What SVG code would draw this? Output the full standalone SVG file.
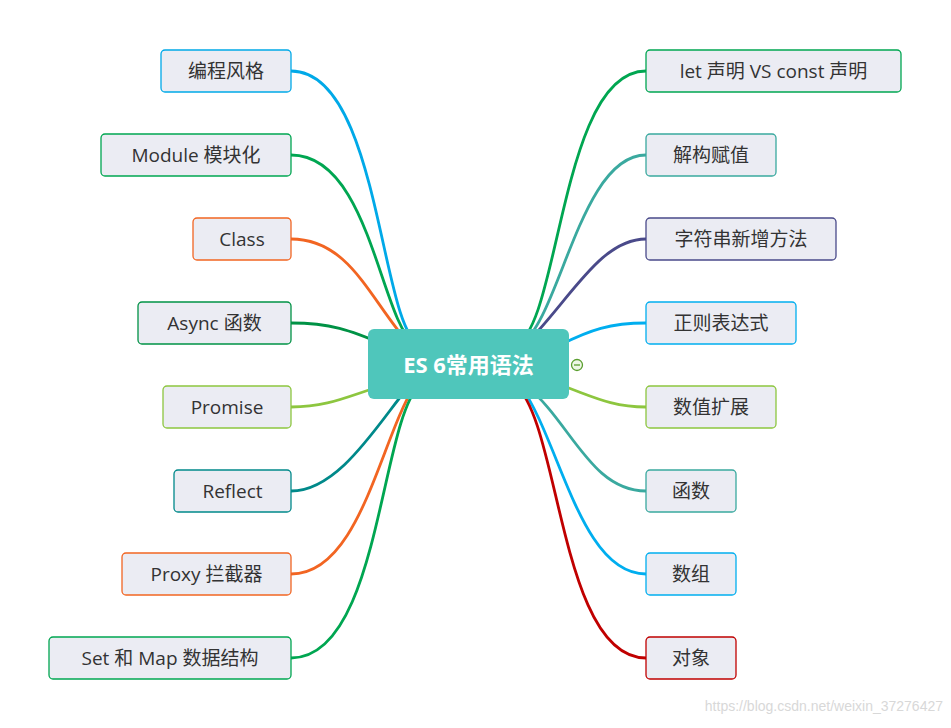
<svg xmlns="http://www.w3.org/2000/svg" width="951" height="728" viewBox="0 0 951 728">
<style>
.n rect{fill:#ebecf3;stroke-width:1.3}
.n text{font-family:"Open Sans","Noto Sans CJK SC",sans-serif;font-size:19px;fill:#333;text-anchor:middle;dominant-baseline:central}
#conn path{fill:none;stroke-width:2.8;stroke-linecap:round}
</style>
<rect width="951" height="728" fill="#fff"/>
<g id="conn">
<path d="M291,71 C380,71 380,330 420,345" stroke="#00a9e8"/>
<path d="M291,155 C370,155 380,320 415,345" stroke="#00a651"/>
<path d="M291,239 C350,239 370,300 410,345" stroke="#f26522"/>
<path d="M291,323 C330,323 350,330 385,345" stroke="#009245"/>
<path d="M291,407 C330,407 350,395 385,385" stroke="#8dc63f"/>
<path d="M291,491 C340,491 380,420 410,385" stroke="#00898a"/>
<path d="M291,574 C360,574 380,440 415,385" stroke="#f26522"/>
<path d="M291,658 C380,658 380,420 420,385" stroke="#00a651"/>
<path d="M646,71 C560,71 560,330 515,345" stroke="#00a651"/>
<path d="M646,155 C580,155 560,320 520,345" stroke="#3aa99f"/>
<path d="M646,239 C600,239 570,300 525,345" stroke="#4a4a8a"/>
<path d="M646,323 C610,323 590,330 560,345" stroke="#00aeef"/>
<path d="M646,407 C610,407 590,395 560,385" stroke="#8dc63f"/>
<path d="M646,491 C590,491 570,420 525,385" stroke="#3aa99f"/>
<path d="M646,574 C580,574 560,440 520,385" stroke="#00aeef"/>
<path d="M646,658 C560,658 560,420 515,385" stroke="#c00000"/>
</g>
<g id="center">
<rect x="368" y="329" width="201" height="70" rx="6" fill="#4fc6bb"/>
<text x="468.5" y="364" font-family="Open Sans,Noto Sans CJK SC,sans-serif" font-size="22" font-weight="bold" fill="#fff" text-anchor="middle" dominant-baseline="central">ES 6常用语法</text>
<circle cx="577" cy="365" r="5.5" fill="#eef7e6" stroke="#5a9e2f" stroke-width="1.3"/>
<line x1="574" y1="365" x2="580" y2="365" stroke="#5a9e2f" stroke-width="1.3"/>
</g>
<g id="n1" class="n"><rect x="161" y="50" width="130" height="42" rx="4" stroke="#00a9e8"/><text x="226" y="71">编程风格</text></g>
<g id="n2" class="n"><rect x="101" y="134" width="190" height="42" rx="4" stroke="#00a651"/><text x="196" y="155">Module 模块化</text></g>
<g id="n3" class="n"><rect x="193" y="218" width="98" height="42" rx="4" stroke="#f26522"/><text x="242" y="239">Class</text></g>
<g id="n4" class="n"><rect x="138" y="302" width="153" height="42" rx="4" stroke="#009245"/><text x="214.5" y="323">Async 函数</text></g>
<g id="n5" class="n"><rect x="163" y="386" width="128" height="42" rx="4" stroke="#8dc63f"/><text x="227" y="407">Promise</text></g>
<g id="n6" class="n"><rect x="174" y="470" width="117" height="42" rx="4" stroke="#00898a"/><text x="232.5" y="491">Reflect</text></g>
<g id="n7" class="n"><rect x="122" y="553" width="169" height="42" rx="4" stroke="#f26522"/><text x="206.5" y="574">Proxy 拦截器</text></g>
<g id="n8" class="n"><rect x="49" y="637" width="242" height="42" rx="4" stroke="#00a651"/><text x="170" y="658">Set 和 Map 数据结构</text></g>
<g id="r1" class="n"><rect x="646" y="50" width="255" height="42" rx="4" stroke="#00a651"/><text x="773.5" y="71">let 声明 VS const 声明</text></g>
<g id="r2" class="n"><rect x="646" y="134" width="130" height="42" rx="4" stroke="#3aa99f"/><text x="711" y="155">解构赋值</text></g>
<g id="r3" class="n"><rect x="646" y="218" width="190" height="42" rx="4" stroke="#4a4a8a"/><text x="741" y="239">字符串新增方法</text></g>
<g id="r4" class="n"><rect x="646" y="302" width="150" height="42" rx="4" stroke="#00aeef"/><text x="721" y="323">正则表达式</text></g>
<g id="r5" class="n"><rect x="646" y="386" width="130" height="42" rx="4" stroke="#8dc63f"/><text x="711" y="407">数值扩展</text></g>
<g id="r6" class="n"><rect x="646" y="470" width="90" height="42" rx="4" stroke="#3aa99f"/><text x="691" y="491">函数</text></g>
<g id="r7" class="n"><rect x="646" y="553" width="90" height="42" rx="4" stroke="#00aeef"/><text x="691" y="574">数组</text></g>
<g id="r8" class="n"><rect x="646" y="637" width="90" height="42" rx="4" stroke="#c00000"/><text x="691" y="658">对象</text></g>
<text x="943" y="711" font-family="Liberation Sans,sans-serif" font-size="14" fill="#d8d8d8" text-anchor="end">https://blog.csdn.net/weixin_37276427</text>
</svg>
